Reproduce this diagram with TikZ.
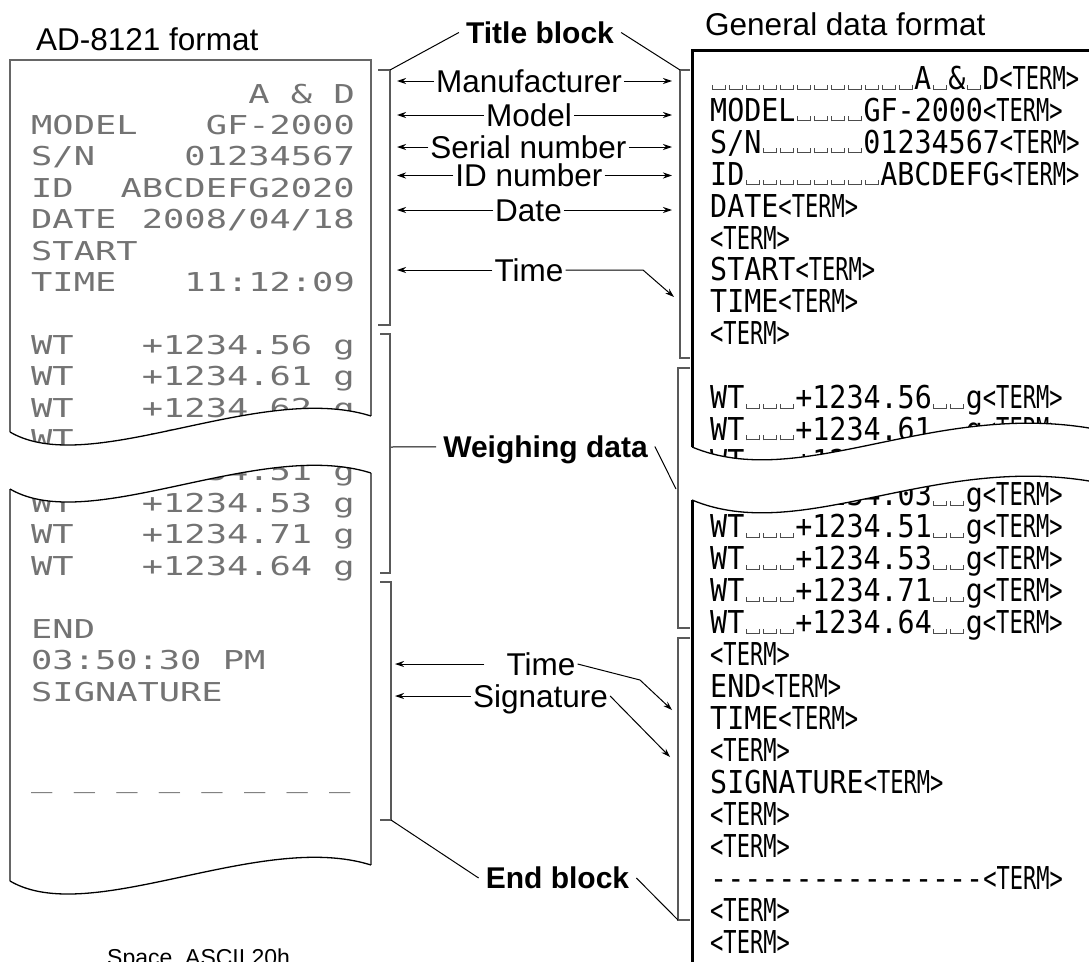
\documentclass[tikz,border=0pt]{standalone}
\usepackage{fontspec}
\setmainfont{Liberation Sans}
\newfontfamily\dotfont[FakeStretch=1.36]{DejaVu Sans Mono}
\newfontfamily\gdfont[FakeStretch=0.9]{DejaVu Sans Mono}
\newfontfamily\termfont[FakeStretch=0.7]{DejaVu Sans Mono}
\usetikzlibrary{arrows.meta, calc}
\newcommand\nmarks[2]{\ifnum#1>0 #2\expandafter\nmarks\expandafter{\the\numexpr#1-1\relax}{#2}\fi}
\newcommand\vsmark{\makebox[17pt]{\color{black!70}\vrule width 1pt height 5pt\vrule width 12pt height 1pt\vrule width 1pt height 5pt}}
\newcommand\vsmarks[1]{\nmarks{#1}{\vsmark}}
\newcommand\termtag{{\termfont <TERM>}}
\newcommand\uline{\string_}

\begin{document}
\begin{tikzpicture}[x=1pt, y=-1pt,
    lbl/.style={font=\fontsize{31.5}{36}\selectfont, inner sep=2pt, text height=22.6pt, text depth=0pt},
    blk/.style={font=\bfseries\fontsize{30}{36}\selectfont, inner sep=7pt, text height=21.5pt, text depth=0pt},
    dot/.style={font=\dotfont\fontsize{26}{26}\selectfont, text=black!55, inner sep=0pt},
    gd/.style={font=\gdfont\fontsize{31.5}{32}\selectfont, anchor=base west, inner sep=0pt},
    paper/.style={draw=black!60, line width=1.5pt},
    cut/.style={draw=black, line width=1.3pt},
    gdbox/.style={draw=black, line width=3pt},
    brk/.style={draw=black!65, line width=1.3pt},
    lead/.style={line width=1pt},
    arr/.style={-{Stealth[length=9pt, width=6pt]}, line width=1pt}
  ]
  \useasboundingbox (0,0) rectangle (1089,961);

  % AD-8121 printout
  \foreach \l/\r [count=\i from 0] in {{}/{A \& D}, MODEL/GF-2000, {S/N}/01234567,
      ID/ABCDEFG2020, DATE/{2008/04/18}, START/{}, TIME/11:12:09, {}/{},
      WT/{+1234.56 g}, WT/{+1234.61 g}, WT/{+1234.62 g}, WT/{+1234.63 g}}
  {
    \node[dot, anchor=base west] (lua\i) at (31, 103+31.4*\i) {\l};
    \node[dot, anchor=base east] (lub\i) at (355, 103+31.4*\i) {\r};
  }
  \foreach \l/\r [count=\i from 0] in {WT/{+1234.51 g}, WT/{+1234.53 g}, WT/{+1234.71 g},
      WT/{+1234.64 g}, {}/{}, END/{}, {03:50:30 PM}/{}, SIGNATURE/{}}
  {
    \node[dot, anchor=base west] (lla\i) at (31, 480.5+31.5*\i) {\l};
    \node[dot, anchor=base east] (llb\i) at (355, 480.5+31.5*\i) {\r};
  }
  \node[dot, anchor=base west] (sigline) at (31,787) {\uline{} \uline{} \uline{} \uline{} \uline{} \uline{} \uline{} \uline};

  \fill[white] (10,432) .. controls (90,479) and (260,381) .. (371,416) -- (371,473)
    .. controls (260,438) and (90,536) .. (10,489) -- cycle;
  \draw[paper] (10,432) -- (10,60) -- (371,60) -- (371,416);
  \draw[cut] (10,432) .. controls (90,479) and (260,381) .. (371,416);
  \draw[paper] (10,489) -- (10,881);
  \draw[paper] (371,473) -- (371,865);
  \draw[cut] (10,489) .. controls (90,536) and (260,438) .. (371,473);
  \draw[cut] (10,881) .. controls (90,928) and (260,830) .. (371,865);

  % general data format
  \foreach \txt [count=\i from 0] in {{\vsmarks{12}A\vsmark\&\vsmark D\termtag},
      {MODEL\vsmarks{4}GF-2000\termtag}, {S/N\vsmarks{6}01234567\termtag},
      {ID\vsmarks{8}ABCDEFG\termtag}, {DATE\termtag}, {\termtag}, {START\termtag},
      {TIME\termtag}, {\termtag}, {},
      {WT\vsmarks{3}+1234.56\vsmarks{2}g\termtag}, {WT\vsmarks{3}+1234.61\vsmarks{2}g\termtag},
      {WT\vsmarks{3}+1234.62\vsmarks{2}g\termtag}}
    \node[gd] (gu\i) at (710, 89.5+31.9*\i) {\txt};
  \foreach \txt [count=\i from 0] in {{WT\vsmarks{3}+1234.03\vsmarks{2}g\termtag},
      {WT\vsmarks{3}+1234.51\vsmarks{2}g\termtag}, {WT\vsmarks{3}+1234.53\vsmarks{2}g\termtag},
      {WT\vsmarks{3}+1234.71\vsmarks{2}g\termtag}, {WT\vsmarks{3}+1234.64\vsmarks{2}g\termtag},
      {\termtag}, {END\termtag}, {TIME\termtag}, {\termtag}, {SIGNATURE\termtag},
      {\termtag}, {\termtag}, {\nmarks{16}{\mbox{-}}\termtag}, {\termtag}, {\termtag}}
    \node[gd] (gl\i) at (710, 505.5+32*\i) {\txt};

  \fill[white] (692,447) .. controls (800,492) and (930,402) .. (1089,428) -- (1100,428)
    -- (1100,481) -- (1089,481) .. controls (930,455) and (800,545) .. (692,500) -- cycle;
  \draw[cut] (692,447) .. controls (800,492) and (930,402) .. (1089,428) -- (1100,428);
  \draw[cut] (692,500) .. controls (800,545) and (930,455) .. (1089,481) -- (1100,481);
  \draw[gdbox] (692,447) -- (692,50) -- (1100,50);
  \draw[gdbox] (692,500) -- (692,975);

  % brackets
  \draw[brk] (378,70) -- (390,70) -- (390,325) -- (378,325);
  \draw[brk] (380,334) -- (390,334) -- (390,573) -- (380,573);
  \draw[brk] (380,582) -- (391,582) -- (391,820) -- (380,820);
  \draw[brk] (690,70) -- (680,70) -- (680,358) -- (690,358);
  \draw[brk] (690,368) -- (678,368) -- (678,628) -- (690,628);
  \draw[brk] (690,638) -- (678,638) -- (678,920) -- (690,920);

  % headings and labels
  \node[lbl, anchor=base west] (hl) at (34,50) {AD-8121 format};
  \node[lbl, anchor=base west] (hr) at (703,35) {General data format};
  \node[font=\fontsize{23}{26}\selectfont, anchor=base west, inner sep=0pt] (note) at (107,965) {Space, ASCII 20h};

  \node[blk] (tb) at (540,32.5) {Title block};
  \node[blk] (wd) at (545.5,446.5) {Weighing data};
  \node[blk] (eb) at (557.5,878) {End block};

  \node[lbl] (man) at (529,81) {Manufacturer};
  \node[lbl] (mod) at (529,115) {Model};
  \node[lbl] (ser) at (528.5,147) {Serial number};
  \node[lbl] (idn) at (529,175.5) {ID number};
  \node[lbl] (dat) at (528.5,210) {Date};
  \node[lbl] (tim) at (529,270) {Time};
  \node[lbl] (tie) at (541,664) {Time};
  \node[lbl] (sig) at (540.5,696) {Signature};

  \coordinate (tipL) at (397,0);
  \coordinate (tipR) at (672,0);
  \coordinate (tipL2) at (395,0);
  \coordinate (timk) at (643,270);
  \coordinate (timt) at (674,297);
  \coordinate (tiek) at (640,680);
  \coordinate (tiet) at (672,710);
  \coordinate (sigt) at (670,757);
  \coordinate (tbl) at (390,70);
  \coordinate (tbr) at (680,70);
  \coordinate (wdl) at (391,447);
  \coordinate (wdr) at (676,489);
  \coordinate (ebl) at (391,820);
  \coordinate (ebr) at (678,920);

  \foreach \n in {man,mod,ser,idn,dat} {
    \draw[arr] (\n) -- (\n -| tipL);
    \draw[arr] (\n) -- (\n -| tipR);
  }
  \draw[arr] (tim) -- (tim -| tipL);
  \draw[arr] (tim) -- (timk) -- (timt);
  \draw[arr] ([xshift=-20pt]tie.west) -- (tie -| tipL2);
  \draw[arr] (tie.east) -- (tiek) -- (tiet);
  \draw[arr] (sig) -- (sig -| tipL2);
  \draw[arr] (sig.east) -- (sigt);

  \draw[lead] (tb.west) -- (tbl);
  \draw[lead] (tb.east) -- (tbr);
  \draw[lead] (wd) -- (wdl);
  \draw[lead] (wd.east) -- (wdr);
  \draw[lead] (eb.west) -- (ebl);
  \draw[lead] (eb.east) -- (ebr);
\end{tikzpicture}
\end{document}
